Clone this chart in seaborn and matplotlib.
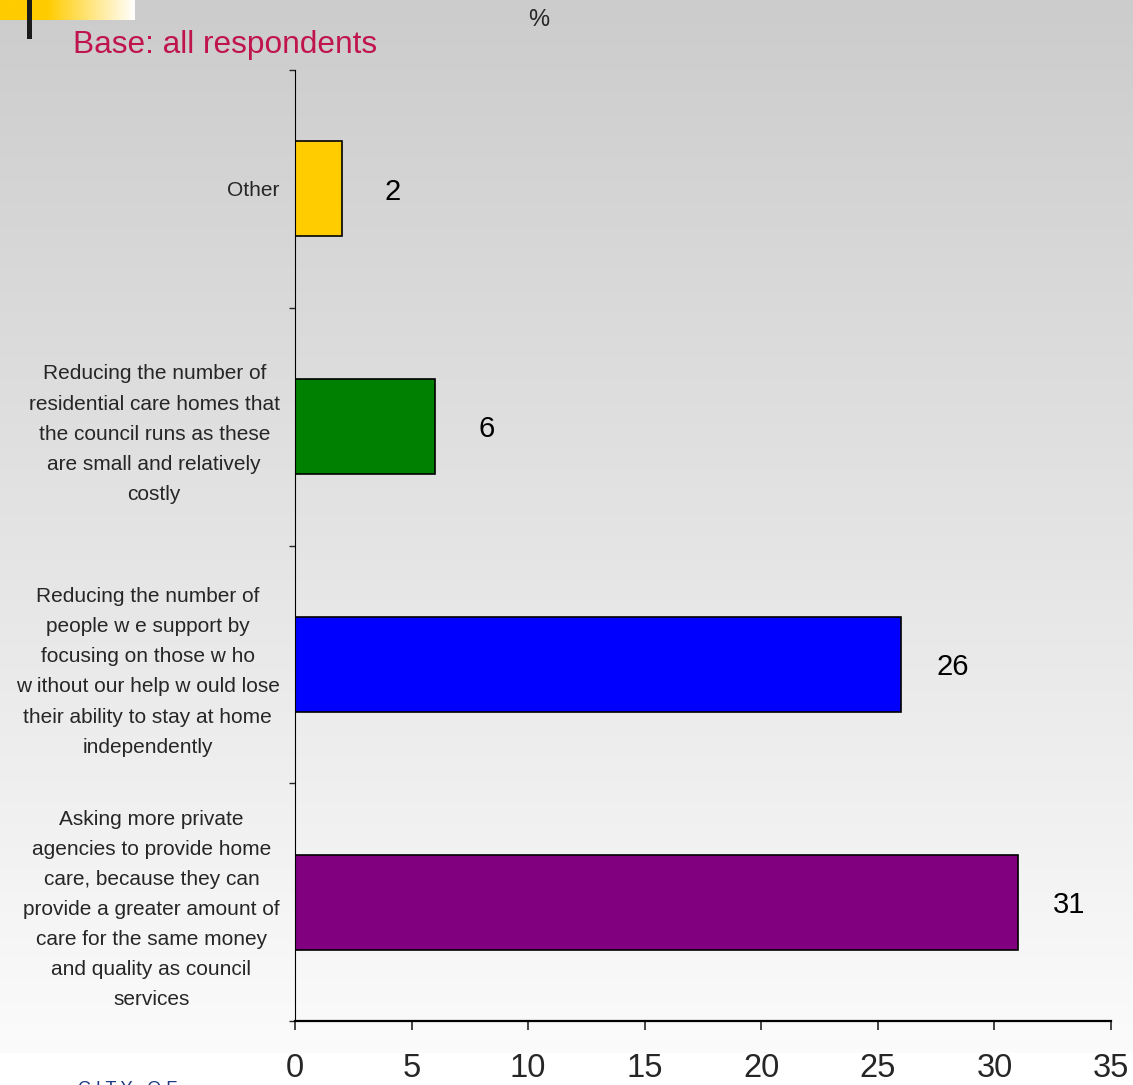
import numpy as np
import pandas as pd
import matplotlib
matplotlib.use("Agg")
import matplotlib.pyplot as plt
import seaborn as sns

categories = [
    "Other",
    "Reducing the number of\nresidential care homes that\nthe council runs as these\nare small and relatively\ncostly",
    "Reducing the number of\npeople w e support by\nfocusing on those w ho\nw ithout our help w ould lose\ntheir ability to stay at home\nindependently",
    "Asking more private\nagencies to provide home\ncare, because they can\nprovide a greater amount of\ncare for the same money\nand quality as council\nservices",
]
values = [2, 6, 26, 31]
bar_colors = ["#FFCC00", "#008000", "#0000FF", "#800080"]
x_ticks = [0, 5, 10, 15, 20, 25, 30, 35]

df = pd.DataFrame({"option": categories, "pct": values})

sns.set_style("white")
plt.rcParams["font.family"] = ["Liberation Sans", "DejaVu Sans"]

W, H = 1133, 1085
fig = plt.figure(figsize=(W / 100, H / 100), dpi=100)

# Slide-style background: grey at the top fading to near white
bg = fig.add_axes([0, 0, 1, 1], zorder=-10)
grad = np.linspace(0.80, 0.985, 256).reshape(-1, 1)
bg.imshow(np.dstack([grad, grad, grad]), aspect="auto",
          extent=[0, 1, 32 / H, 1], origin="upper")
bg.add_patch(plt.Rectangle((0, 0), 1, 32 / H, color="white", lw=0))
# yellow header strip fading to white, with a dark marker bar
strip = np.ones((1, 256, 3))
t = np.clip((np.linspace(0, 1, 256) - 0.35) / 0.65, 0, 1)
strip[0, :, 0] = 1.0
strip[0, :, 1] = 0.80 + 0.20 * t
strip[0, :, 2] = 0.0 + 1.0 * t
bg.imshow(strip, aspect="auto", extent=[0, 135 / W, 1 - 20 / H, 1], origin="upper")
bg.add_patch(plt.Rectangle((27 / W, 1 - 39 / H), 5 / W, 39 / H, color="#1a1a1a", lw=0))
bg.set_xlim(0, 1)
bg.set_ylim(0, 1)
bg.axis("off")

ax = fig.add_axes([295 / W, 1 - 1021 / H, 816 / W, 951 / H])
ax.set_facecolor("none")
sns.barplot(data=df, x="pct", y="option", hue="option", palette=bar_colors,
            order=categories, width=0.4, edgecolor="black", linewidth=1.2,
            saturation=1, legend=False, ax=ax)

for i, v in enumerate(values):
    ax.annotate(str(v), xy=(v, i), xytext=(37, -2), textcoords="offset points",
                ha="center", va="center", fontsize=21, color="black")

ax.set_xlim(0, 35)
ax.set_ylim(3.5, -0.5)
ax.set_xticks(x_ticks)
ax.set_xticklabels([str(t) for t in x_ticks], fontsize=23.5)
ax.set_yticks([-0.5, 0.5, 1.5, 2.5, 3.5], minor=False)
ax.set_yticklabels([])
ax.set_yticks(range(len(categories)), minor=True)
ax.set_yticklabels(categories, minor=True, fontsize=15, ha="right",
                   multialignment="center", linespacing=1.74)
ax.tick_params(axis="y", which="minor", length=0, pad=11)
ax.tick_params(axis="y", which="major", length=4.5, width=1, direction="out", left=True)
ax.tick_params(axis="x", length=6.5, width=1.2, direction="out", bottom=True, pad=16.5)
ax.set_xlabel("")
ax.set_ylabel("")
for s in ["top", "right"]:
    ax.spines[s].set_visible(False)
ax.spines["left"].set_color("black")
ax.spines["bottom"].set_color("black")
ax.spines["bottom"].set_linewidth(1.6)

fig.text(539 / W, 1 - 20 / H, "%", ha="center", va="center", fontsize=17)
fig.text(73 / W, 1 - 45 / H, "Base: all respondents", ha="left", va="center",
         fontsize=22.8, color="#C0144C")
fig.text(78 / W, -9 / H, "C I T Y   O F", ha="left", va="baseline", fontsize=13,
         color="#1F3A80")

fig.savefig("out.png", dpi=100)
